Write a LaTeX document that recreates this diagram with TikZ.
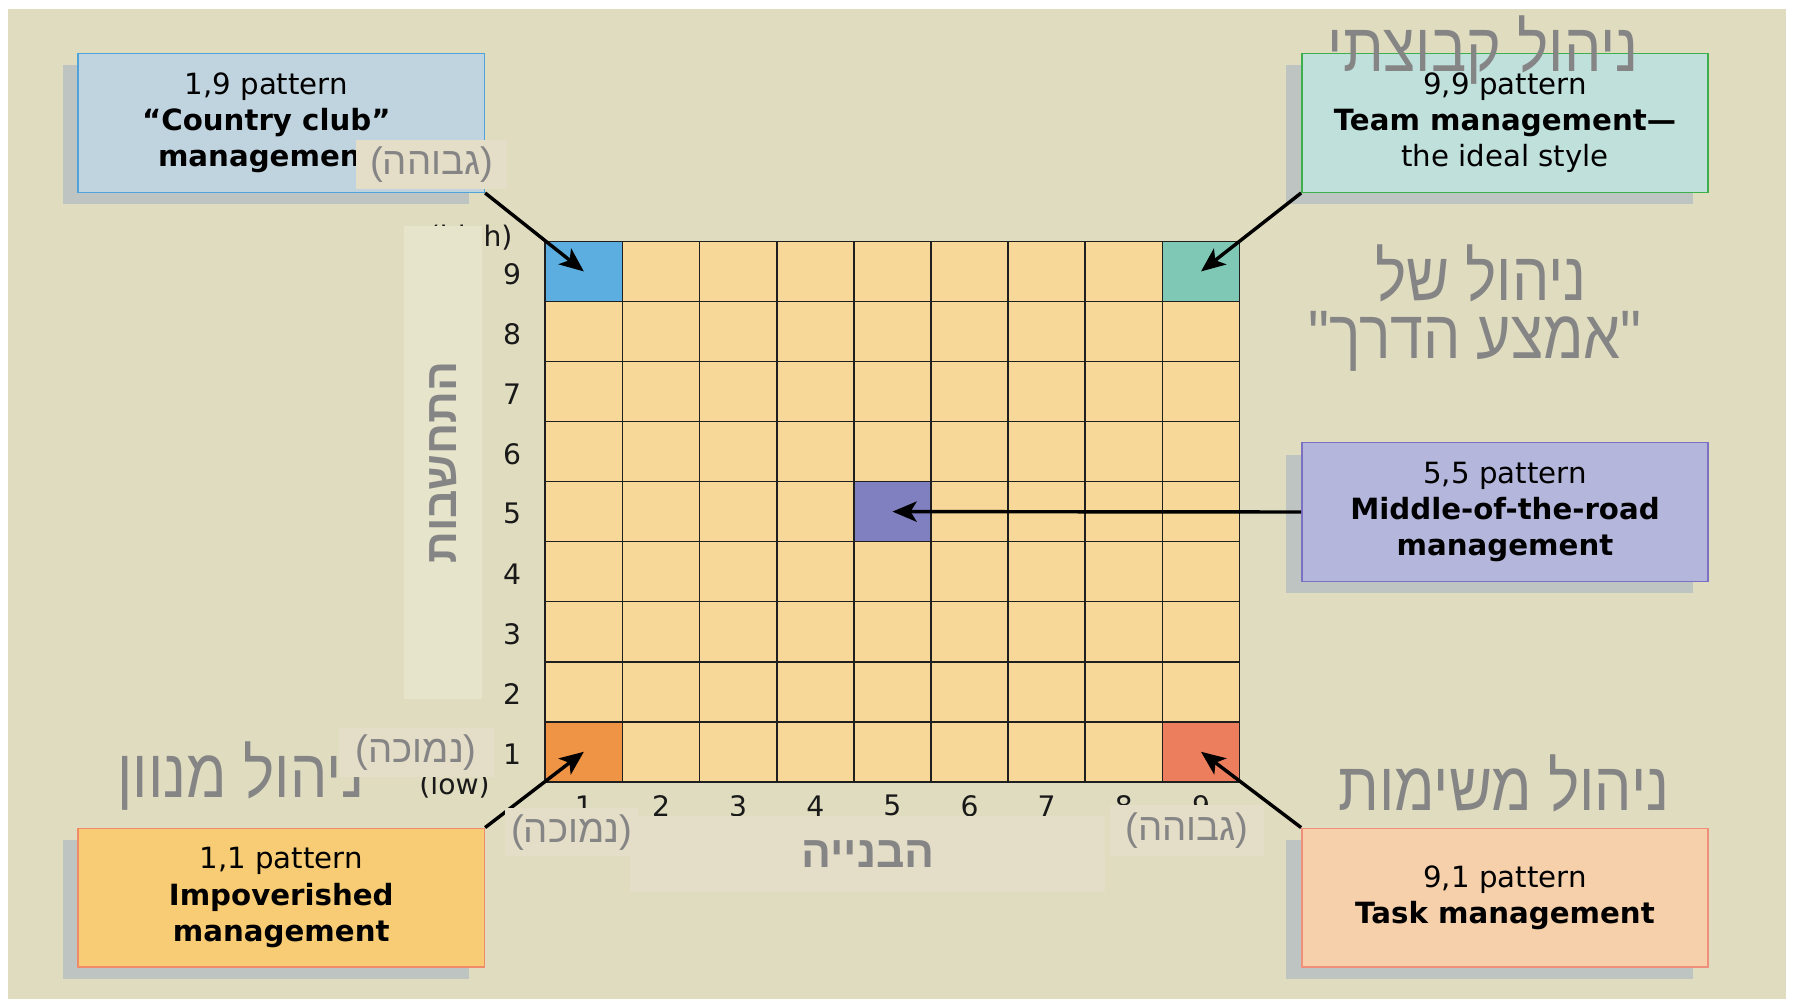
\documentclass[tikz,border=0pt]{standalone}
\usepackage{fontspec}
\setmainfont{DejaVu Sans}
\newfontfamily\hebfont[Script=Hebrew]{Liberation Sans}
\newfontfamily\hebnarrow[Script=Hebrew, FakeStretch=0.86]{Liberation Sans}
\TeXXeTstate=1
\usetikzlibrary{arrows.meta,shadows}
\definecolor{cbg}{HTML}{DFDCBF}
\definecolor{ccell}{HTML}{F8D898}
\definecolor{cblue}{HTML}{5DAEE0}
\definecolor{cteal}{HTML}{80C8B6}
\definecolor{cviolet}{HTML}{8080C0}
\definecolor{corange}{HTML}{EF9444}
\definecolor{csalmon}{HTML}{EC7E5E}
\definecolor{cpblue}{HTML}{C0D4E0}
\definecolor{cbblue}{HTML}{4EA3DA}
\definecolor{cpteal}{HTML}{C0E0DC}
\definecolor{cbteal}{HTML}{3DB04B}
\definecolor{cpviolet}{HTML}{B4B6DC}
\definecolor{cbviolet}{HTML}{7B70C2}
\definecolor{cporange}{HTML}{F8CC74}
\definecolor{cborange}{HTML}{F08A68}
\definecolor{cpsalmon}{HTML}{F5D0AA}
\definecolor{cbsalmon}{HTML}{F0907A}
\definecolor{cshadow}{HTML}{BEC4C1}
\definecolor{ccover}{HTML}{E4DDC7}
\definecolor{ccoverv}{HTML}{E6E4CB}
\definecolor{cgraytext}{HTML}{858585}

\begin{document}
\begin{tikzpicture}[x=0.02cm, y=-0.02cm,
  cell/.style={draw=black!88, line width=0.8pt, fill=ccell, minimum width=1.344cm,
    minimum height=1.046cm, inner sep=0pt, outer sep=0pt},
  hl19/.style={fill=cblue}, hl99/.style={fill=cteal}, hl55/.style={fill=cviolet},
  hl11/.style={fill=corange}, hl91/.style={fill=csalmon},
  pat/.style={draw, line width=0.7pt, minimum width=7.08cm, minimum height=2.42cm,
    inner sep=0pt, align=center, font=\fontsize{14.5}{18}\selectfont,
    drop shadow={shadow xshift=-0.27cm, shadow yshift=-0.21cm, fill=cshadow, opacity=1}},
  num/.style={font=\fontsize{14}{17}\selectfont, text=black!90},
  big/.style={font=\hebnarrow\fontsize{34}{38}\selectfont, text=cgraytext, anchor=base},
  cover/.style={fill=ccover, inner sep=0pt, font=\hebfont\fontsize{19}{22}\selectfont, text=cgraytext},
  arr/.style={-{Stealth[length=12pt, width=10pt, inset=3pt]}, line width=1.7pt}]

\useasboundingbox (0,0) rectangle (1568,877);
\fill[cbg] (7,8) rectangle (1556,870);

% pattern boxes
\node[pat, fill=cpblue, draw=cbblue] (countryclub) at (245,107) {};
\node[align=center, font=\fontsize{14.5}{18}\selectfont] (countryclubtxt) at (232,107)
  {1,9 pattern\\ \textbf{“Country club”}\\ \textbf{management}};
\node[pat, fill=cpteal, draw=cbteal] (teamstyle) at (1311,107)
  {9,9 pattern\\ \textbf{Team management—}\\ the ideal style};
\node[pat, fill=cpviolet, draw=cbviolet] (middleroad) at (1311,446)
  {5,5 pattern\\ \textbf{Middle-of-the-road}\\ \textbf{management}};
\node[pat, fill=cporange, draw=cborange] (impoverished) at (245,782)
  {1,1 pattern\\ \textbf{Impoverished}\\ \textbf{management}};
\node[pat, fill=cpsalmon, draw=cbsalmon] (taskstyle) at (1311,782)
  {9,1 pattern\\ \textbf{Task management}};

% 9x9 grid
\foreach \i in {1,...,9}
  \foreach \j in {1,...,9}
    \node[cell, hl\i\j/.try] (c\i\j) at ({475+67.2*(\i-0.5)}, {681-52.3*(\j-0.5)}) {};

% axis numbers
\foreach \k in {1,...,9} {
  \node[num] (ynum\k) at (446, {683-52.3*(\k-0.5)}) {\k};
  \node[num] (xnum\k) at ({475+67.2*(\k-0.5)}, 702) {\k};
}
\node[num] (yhigh) at (410,208) {(high)};
\node[num] (ylow) at (396,684) {(low)};
\node[num] (xhigh) at (1050,733) {(high)};

\draw[arr] (countryclub.south east) -- (c19.center);
\draw[arr] (teamstyle.south west) -- (c99.center);
\draw[arr] (middleroad.west) -- (c55.center);
\draw[arr] (impoverished.north east) -- (c11.center);
\draw[arr] (taskstyle.north west) -- (c91.center);

% hebrew titles
\node[big] (teamhe) at (1292,62) {\beginR ניהול קבוצתי\endR};
\node[big] (middlehe1) at (1290,262) {\beginR ניהול של\endR};
\node[big] (middlehe2) at (1285,312) {\beginR "אמצע הדרך"\endR};
\node[big] (taskhe) at (1310,706) {\beginR ניהול משימות\endR};
\node[big] (poorhe) at (210,695) {\beginR ניהול מנוון\endR};

% cover labels
\node[cover, minimum width=2.64cm, minimum height=0.86cm] (yhighhe) at (376,143.5) {\beginR(גבוהה)\endR};
\node[cover, minimum width=2.7cm, minimum height=0.86cm] (ylowhe) at (362.5,655.5) {\beginR(נמוכה)\endR};
\node[cover, minimum width=8.28cm, minimum height=1.32cm, font=\hebfont\bfseries\fontsize{22}{26}\selectfont]
  (xlabel) at (756,744) {\beginR הבנייה\endR};
\node[cover, minimum width=2.32cm, minimum height=0.84cm] (xlowhe) at (498,725) {\beginR(נמוכה)\endR};
\node[cover, minimum width=2.68cm, minimum height=0.9cm] (xhighhe) at (1034,723.5) {\beginR(גבוהה)\endR};
\node[cover, fill=ccoverv, rotate=90, minimum width=8.24cm, minimum height=1.36cm,
  font=\hebfont\bfseries\fontsize{22}{26}\selectfont] (ylabel) at (386,403) {\beginR התחשבות\endR};
\end{tikzpicture}
\end{document}
